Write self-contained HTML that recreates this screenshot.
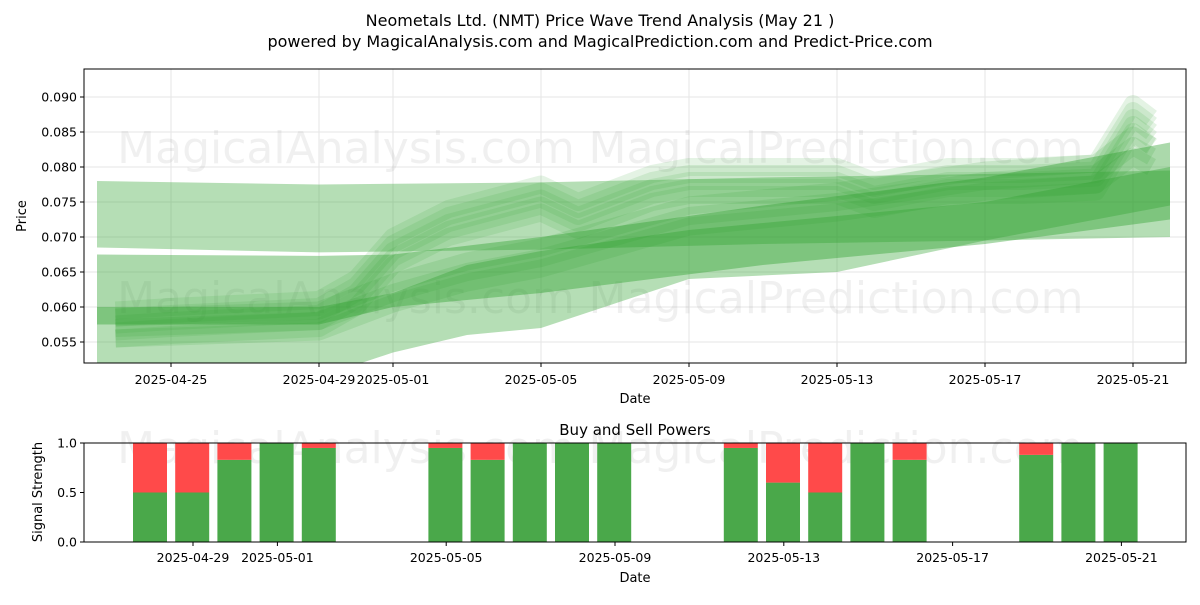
<!DOCTYPE html>
<html><head><meta charset="utf-8">
<style>
body{margin:0;background:#fff;font-family:"Liberation Sans","DejaVu Sans",sans-serif;}
svg text{font-family:"DejaVu Sans","Liberation Sans",sans-serif;}
</style></head>
<body>
<svg id="c" width="1200" height="600" xmlns="http://www.w3.org/2000/svg">
<text x="600" y="26" font-size="16" text-anchor="middle">Neometals Ltd. (NMT) Price Wave Trend Analysis (May 21 )</text>
<text x="600" y="47" font-size="16" text-anchor="middle">powered by MagicalAnalysis.com and MagicalPrediction.com and Predict-Price.com</text>
<g id="topPlot"></g>
<g id="botPlot"></g>
</svg>
<script>
// ---- data ----
const tickDates = ["2025-04-25","2025-04-29","2025-05-01","2025-05-05","2025-05-09","2025-05-13","2025-05-17","2025-05-21"];
const tickDays = [0,4,6,10,14,18,22,26];
const priceTicks = [0.055,0.060,0.065,0.070,0.075,0.080,0.085,0.090];
const band1Days = [-2,4,10,16,22,27];
const band1Hi = [0.078,0.0775,0.0778,0.0785,0.079,0.0795];
const band1Lo = [0.0685,0.0678,0.0682,0.069,0.0695,0.070];
const band2Days = [-2,4,6,10,16,22,27];
const band2Hi = [0.0675,0.0673,0.0675,0.070,0.0745,0.0785,0.0835];
const band2Lo = [0.0575,0.0575,0.060,0.062,0.066,0.069,0.0725];
const band3Days = [-2,4,6,8,10,14,18,22,27];
const band3Hi = [0.060,0.060,0.062,0.066,0.068,0.071,0.073,0.075,0.080];
const band3Lo = [0.052,0.050,0.0535,0.056,0.057,0.064,0.065,0.0695,0.0745];
const waveADays = [-1.5,0,4,5,6,7.5,10,11,13,14,18,19,21,23,25,26,26.5];
const waveA = [0.0575,0.058,0.059,0.062,0.068,0.072,0.0755,0.073,0.077,0.078,0.078,0.076,0.078,0.078,0.0785,0.087,0.085];
const waveBDays = [-1.5,4,6,8,10,14,18,22,25,26,26.5];
const waveB = [0.057,0.058,0.062,0.065,0.067,0.073,0.075,0.078,0.079,0.083,0.0815];
const barSlots = [0,1,2,3,4,7,8,9,10,11,14,15,16,17,18,21,22,23];
const buyPower = [0.5,0.5,0.83,1,0.95,0.95,0.83,1,1,1,0.95,0.6,0.5,1,0.83,0.88,1,1];
const sigTickDates = ["2025-04-29","2025-05-01","2025-05-05","2025-05-09","2025-05-13","2025-05-17","2025-05-21"];
const sigTickDays = [4,6,10,14,18,22,26];
const sigTicks = [0.0,0.5,1.0];

const NS="http://www.w3.org/2000/svg";
function mk(p,tag,a){const e=document.createElementNS(NS,tag);for(const k in a)e.setAttribute(k,a[k]);p.appendChild(e);return e;}
const topG=document.getElementById('topPlot'), botG=document.getElementById('botPlot');
const X=d=>171+d*37;
const Y=v=>97+(0.090-v)*7000;
const L=84,R=1186,T=69,B=363;
const BL=84,BR=1186,BT=443,BB=542;
const BY=v=>BB-v*(BB-BT);
const BX=s=>150+s*42.2;
const BXd=d=>193+(d-4)*42.2;

tickDays.forEach((d,i)=>{let g=mk(topG,'line',{x1:X(d),x2:X(d),y1:T,y2:B,stroke:'#e6e6e6','stroke-width':1});
});
priceTicks.forEach(v=>{let g=mk(topG,'line',{x1:L,x2:R,y1:Y(v),y2:Y(v),stroke:'#e6e6e6','stroke-width':1});
});
[[346,148],[836,148],[346,298],[836,298]].forEach((p,i)=>{let t=mk(topG,'text',{x:p[0],y:p[1]+15,'font-size':44,'text-anchor':'middle',fill:'#000','fill-opacity':0.06});
t.textContent=i%2?'MagicalPrediction.com':'MagicalAnalysis.com';
});

const clip=mk(topG,'clipPath',{id:'cp'});mk(clip,'rect',{x:L,y:T,width:R-L,height:B-T});
const g0=mk(topG,'g',{'clip-path':'url(#cp)'});
function bandG(days,hi,lo,op,name){
 let pts=days.map((d,i)=>X(d)+','+Y(hi[i]));
 for(let i=days.length-1;i>=0;i--)pts.push(X(days[i])+','+Y(lo[i]));
 let p=mk(g0,'polygon',{points:pts.join(' '),fill:'#2ca02c','fill-opacity':op});
 
}
bandG(band1Days,band1Hi,band1Lo,0.35,'price-band-upper');
bandG(band2Days,band2Hi,band2Lo,0.4,'price-band-middle');
bandG(band3Days,band3Hi,band3Lo,0.35,'price-band-lower');
function wave(days,vals,offs,w,op,name){
 offs.forEach(o=>{
  let d=days.map((x,i)=>(i?'L':'M')+X(x)+','+Y(vals[i]+o)).join(' ');
  let p=mk(g0,'path',{d:d,fill:'none',stroke:'#2ca02c','stroke-width':w,'stroke-opacity':op,'stroke-linejoin':'round'});
  
 });
}
wave(waveADays,waveA,[-0.002,-0.001,0,0.001,0.002],18,0.13,'wave-line-upper');
wave(waveBDays,waveB,[-0.0015,0,0.0015],18,0.15,'wave-line-lower');

let fr=mk(topG,'rect',{x:L,y:T,width:R-L,height:B-T,fill:'none',stroke:'#000','stroke-width':1});

tickDays.forEach((d,i)=>{mk(topG,'line',{x1:X(d),x2:X(d),y1:B,y2:B+4,stroke:'#000'});
 let t=mk(topG,'text',{x:X(d),y:B+21,'font-size':12.5,'text-anchor':'middle'});t.textContent=tickDates[i];
 });
priceTicks.forEach(v=>{mk(topG,'line',{x1:L-4,x2:L,y1:Y(v),y2:Y(v),stroke:'#000'});
 let t=mk(topG,'text',{x:L-7,y:Y(v)+4.5,'font-size':12.5,'text-anchor':'end'});t.textContent=v.toFixed(3);
 });
let xl=mk(topG,'text',{x:635,y:403,'font-size':13,'text-anchor':'middle'});xl.textContent='Date';

let yl=mk(topG,'text',{x:26,y:216,'font-size':13,'text-anchor':'middle',transform:'rotate(-90 26 216)'});yl.textContent='Price';


let wt=mk(botG,'text',{x:346,y:463,'font-size':44,'text-anchor':'middle','fill-opacity':0.06});wt.textContent='MagicalAnalysis.com';

let wt2=mk(botG,'text',{x:836,y:463,'font-size':44,'text-anchor':'middle','fill-opacity':0.06});wt2.textContent='MagicalPrediction.com';

barSlots.forEach((s,i)=>{
 let x=BX(s)-17;
 let g=mk(botG,'rect',{x:x,y:BY(buyPower[i]),width:34,height:BB-BY(buyPower[i]),fill:'#4aa84a'});
 
 let r=mk(botG,'rect',{x:x,y:BT,width:34,height:BY(buyPower[i])-BT,fill:'#ff4a4a'});
 
});
let bf=mk(botG,'rect',{x:BL,y:BT,width:BR-BL,height:BB-BT,fill:'none',stroke:'#000'});

sigTickDays.forEach((d,i)=>{mk(botG,'line',{x1:BXd(d),x2:BXd(d),y1:BB,y2:BB+4,stroke:'#000'});
 let t=mk(botG,'text',{x:BXd(d),y:BB+20,'font-size':12.5,'text-anchor':'middle'});t.textContent=sigTickDates[i];
 });
sigTicks.forEach(v=>{mk(botG,'line',{x1:BL-4,x2:BL,y1:BY(v),y2:BY(v),stroke:'#000'});
 let t=mk(botG,'text',{x:BL-7,y:BY(v)+4.5,'font-size':12.5,'text-anchor':'end'});t.textContent=v.toFixed(1);
 });
let bt=mk(botG,'text',{x:635,y:435,'font-size':15,'text-anchor':'middle'});bt.textContent='Buy and Sell Powers';

let bxl=mk(botG,'text',{x:635,y:582,'font-size':13,'text-anchor':'middle'});bxl.textContent='Date';

let byl=mk(botG,'text',{x:42,y:492,'font-size':13,'text-anchor':'middle',transform:'rotate(-90 42 492)'});byl.textContent='Signal Strength';

</script>
</body></html>
